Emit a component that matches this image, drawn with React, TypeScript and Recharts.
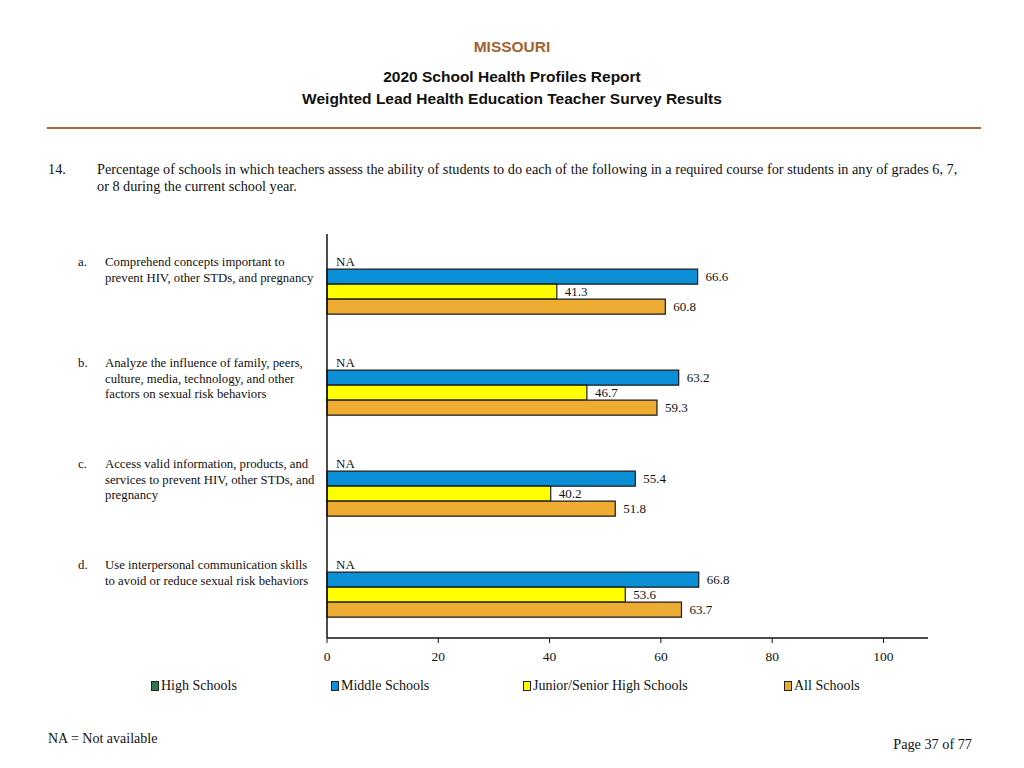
import { BarChart, Bar, XAxis, YAxis, LabelList } from "recharts";

const categoryLetters = ["a.", "b.", "c.", "d."];
const categoryLines = [
  ["Comprehend concepts important to", "prevent HIV, other STDs, and pregnancy"],
  ["Analyze the influence of family, peers,", "culture, media, technology, and other", "factors on sexual risk behaviors"],
  ["Access valid information, products, and", "services to prevent HIV, other STDs, and", "pregnancy"],
  ["Use interpersonal communication skills", "to avoid or reduce sexual risk behaviors"],
];

// null = NA (not available)
const highSchools: (number | null)[] = [null, null, null, null];
const middleSchools = [66.6, 63.2, 55.4, 66.8];
const juniorSeniorHigh = [41.3, 46.7, 40.2, 53.6];
const allSchools = [60.8, 59.3, 51.8, 63.7];

const xTicks = [0, 20, 40, 60, 80, 100];

const series = [
  { key: "high", name: "High Schools", color: "#2f7a4a", values: highSchools },
  { key: "middle", name: "Middle Schools", color: "#0b8fd6", values: middleSchools },
  { key: "junior", name: "Junior/Senior High Schools", color: "#ffff00", values: juniorSeniorHigh },
  { key: "all", name: "All Schools", color: "#eeac32", values: allSchools },
];

const data = categoryLetters.map((letter, i) => {
  const row: Record<string, any> = { cat: letter };
  series.forEach((s) => {
    row[s.key] = s.values[i] ?? 0;
  });
  return row;
});

const serif = "'Liberation Serif', 'Times New Roman', serif";
const sans = "'Liberation Sans', Arial, sans-serif";

function CategoryTick(props: any) {
  const { y, payload } = props;
  const i = payload.index ?? categoryLetters.indexOf(payload.value);
  const lines = categoryLines[i] || [];
  const top = y - 22.5;
  return (
    <g fontFamily={serif} fontSize={12.75} fill="#111">
      <text x={78} y={top} dominantBaseline="central">
        {categoryLetters[i]}
      </text>
      {lines.map((ln, k) => (
        <text key={k} x={105} y={top + k * 15.5} dominantBaseline="central">
          {ln}
        </text>
      ))}
    </g>
  );
}

function makeLabel(values: (number | null)[]) {
  return function ValueLabel(props: any) {
    const { x, y, height, index } = props;
    const v = values[index];
    const width = v == null ? 1 : Number(props.width || 0);
    const text = v == null ? "NA" : v.toFixed(1);
    return (
      <text
        x={Number(x) + width + 8}
        y={Number(y) + Number(height) / 2}
        dominantBaseline="central"
        fontFamily={serif}
        fontSize={13}
        fill="#111"
      >
        {text}
      </text>
    );
  };
}

export default function App() {
  return (
    <div
      style={{
        position: "absolute",
        left: 0,
        top: 0,
        width: 1024,
        height: 768,
        background: "#fff",
        fontFamily: serif,
        color: "#111",
      }}
    >
      <div style={{ position: "absolute", top: 38, width: 1024, textAlign: "center", fontFamily: sans, fontWeight: 700, fontSize: 15.5, color: "#a3622e" }}>
        MISSOURI
      </div>
      <div style={{ position: "absolute", top: 68, width: 1024, textAlign: "center", fontFamily: sans, fontWeight: 700, fontSize: 15.5 }}>
        2020 School Health Profiles Report
      </div>
      <div style={{ position: "absolute", top: 90, width: 1024, textAlign: "center", fontFamily: sans, fontWeight: 700, fontSize: 15.5 }}>
        Weighted Lead Health Education Teacher Survey Results
      </div>
      <div style={{ position: "absolute", top: 127, left: 47, width: 934, height: 2, background: "#a36a37" }} />

      <div style={{ position: "absolute", top: 161, left: 48, fontSize: 14.25 }}>14.</div>
      <div style={{ position: "absolute", top: 161, left: 97, width: 900, fontSize: 14.25, lineHeight: "17px", whiteSpace: "nowrap" }}>
        Percentage of schools in which teachers assess the ability of students to do each of the following in a required course for students in any of grades 6, 7,
        <br />
        or 8 during the current school year.
      </div>

      <div style={{ position: "absolute", left: 0, top: 214 }}>
        <BarChart
          width={960}
          height={470}
          data={data}
          layout="vertical"
          margin={{ top: 20, right: 32, left: 0, bottom: 16 }}
          barCategoryGap="20%"
          barGap={0}
        >
          <XAxis
            type="number"
            domain={[0, 108]}
            ticks={xTicks}
            height={30}
            axisLine={{ stroke: "#111", strokeWidth: 1.5 }}
            tickLine={{ stroke: "#111" }}
            tickSize={5}
            tickMargin={8}
            tick={{ fontFamily: serif, fontSize: 13.5, fill: "#111" }}
          />
          <YAxis
            type="category"
            dataKey="cat"
            width={327}
            axisLine={{ stroke: "#111", strokeWidth: 1.5 }}
            tickLine={false}
            tick={<CategoryTick />}
            interval={0}
          />
          {series.map((s) => {
            const allNA = s.values.every((v) => v == null);
            return (
              <Bar
                key={s.key}
                dataKey={s.key}
                name={s.name}
                fill={allNA ? "transparent" : s.color}
                stroke={allNA ? "none" : "#1a1a1a"}
                strokeWidth={1.2}
                minPointSize={allNA ? 1 : 0}
                isAnimationActive={false}
              >
                <LabelList dataKey={s.key} content={makeLabel(s.values)} />
              </Bar>
            );
          })}
        </BarChart>
      </div>

      {series.map((s, i) => {
        const lefts = [151, 331, 523, 784];
        return (
          <div key={s.key} style={{ position: "absolute", left: lefts[i], top: 678, fontSize: 14, display: "flex", alignItems: "center", whiteSpace: "nowrap" }}>
            <span style={{ display: "inline-block", width: 6, height: 8, background: s.color, border: "1px solid #222", marginRight: 2 }} />
            {s.name}
          </div>
        );
      })}

      <div style={{ position: "absolute", left: 48, top: 731, fontSize: 14 }}>NA = Not available</div>
      <div style={{ position: "absolute", right: 52, top: 736, fontSize: 14.25 }}>Page 37 of 77</div>
    </div>
  );
}
